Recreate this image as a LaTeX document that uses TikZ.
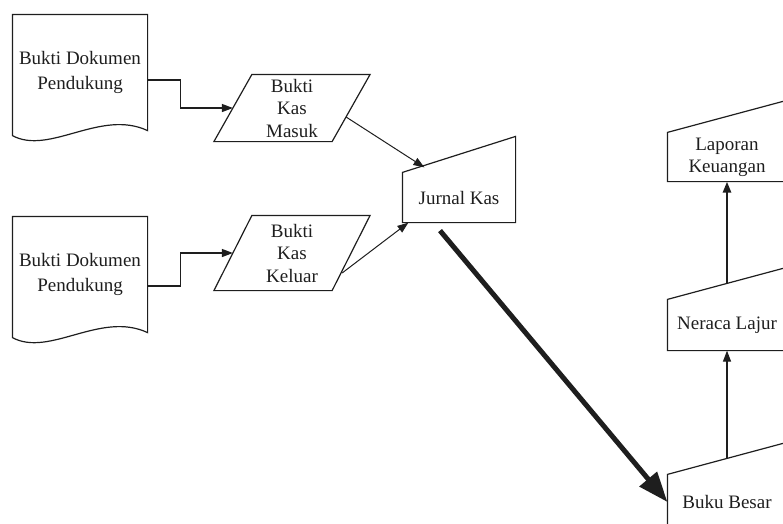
\documentclass[tikz,border=0pt]{standalone}
\usepackage{fontspec}
\setmainfont{Liberation Serif}
\usepackage{tikz}
\usetikzlibrary{calc,arrows.meta}
\definecolor{ink}{RGB}{30, 30, 30}

\tikzset{
  box/.style={draw=none, inner sep=0pt, align=center, text=ink, font=\fontsize{19}{25}\selectfont},
  doc/.style={box, minimum width=134pt, minimum height=114pt},
  voucher/.style={box, minimum width=117pt, font=\fontsize{19}{22.5}\selectfont},
  flow/.style={-{Triangle[length=11pt,width=8pt]}, line width=1.2pt, ink},
}

\begin{document}
\begin{tikzpicture}[x=1pt, y=-1pt, line width=1.2pt, ink]
  \useasboundingbox (0,0) rectangle (783,523);
  \clip (0,0) rectangle (783,523);

  % supporting documents
  \node[doc] (dok1) at (80,72) {Bukti Dokumen\\Pendukung};
  \node[doc] (dok2) at (80,274) {Bukti Dokumen\\Pendukung};
  \foreach \d in {dok1,dok2}
    \draw ($(\d.south west)+(0,6)$) -- (\d.north west) -- (\d.north east) -- ($(\d.south east)+(0,1)$)
      .. controls ($(\d.south east)+(-47,-21)$) and ($(\d.south west)+(37,26)$) .. ($(\d.south west)+(0,6)$) -- cycle;

  % cash vouchers
  \node[voucher, minimum height=66pt] (masuk) at (292,108) {Bukti\\Kas\\Masuk};
  \node[voucher, minimum height=74pt] (keluar) at (292,253) {Bukti\\Kas\\Keluar};
  \foreach \v in {masuk,keluar}
    \draw ([xshift=19pt]\v.north west) -- ([xshift=19pt]\v.north east) -- ([xshift=-19pt]\v.south east) -- ([xshift=-19pt]\v.south west) -- cycle;

  % journal, ledger and reports
  \node[box, minimum width=112pt, minimum height=49pt] (jurnal) at (459,197.5) {Jurnal Kas};
  \node[box, minimum width=118pt, minimum height=54pt] (buku) at (727,502) {Buku Besar};
  \node[box, minimum width=118pt, minimum height=50pt] (neraca) at (727,325) {Neraca Lajur};
  \node[box, minimum width=118pt, minimum height=48pt, font=\fontsize{19}{22}\selectfont] (laporan) at (727,157) {Laporan\\Keuangan};
  \draw (jurnal.south west) -- (jurnal.north west) -- ([yshift=36pt]jurnal.north east) -- (jurnal.south east) -- cycle;
  \foreach \m in {buku,neraca,laporan}
    \draw (\m.south west) -- (\m.north west) -- ([yshift=32pt]\m.north east) -- (\m.south east) -- cycle;

  % flows
  \draw[flow] ([yshift=-8pt]dok1.east) -- ++(33,0) |- (masuk.west);
  \draw[flow] ([yshift=-12pt]dok2.east) -- ++(33,0) |- (keluar.west);
  \draw[flow, line width=1pt] ([xshift=-5pt,yshift=-9pt]masuk.east) -- ([xshift=22pt,yshift=5pt]jurnal.north west);
  \draw[flow, line width=1pt] ([xshift=-9pt,yshift=-20pt]keluar.east) -- ([xshift=6pt]jurnal.south west);
  \draw[-{Triangle[length=30pt,width=22pt]}, line width=5pt] ([xshift=-19pt,yshift=-8pt]jurnal.south) -- (buku.west);
  \draw[flow] ([yshift=16pt]buku.north) -- (neraca.south);
  \draw[flow, line width=2.5pt] ([yshift=16pt]neraca.north) -- (laporan.south);
\end{tikzpicture}
\end{document}
